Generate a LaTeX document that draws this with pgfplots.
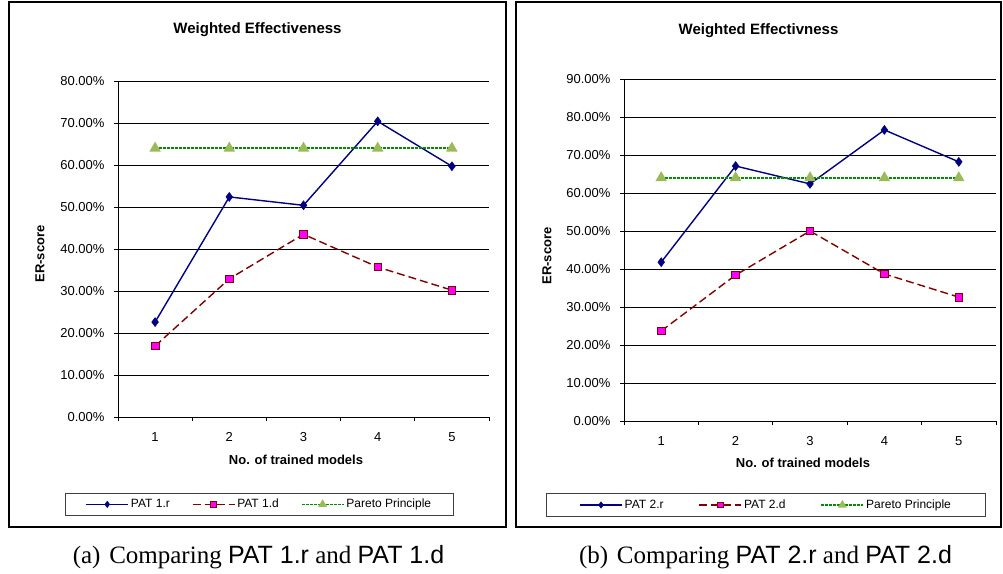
\documentclass[border=0pt]{standalone}
\usepackage{fontspec}
\setmainfont{Liberation Serif}
\newfontfamily\arial{Liberation Sans}
\usepackage{pgfplots}
\pgfplotsset{compat=1.18}

\definecolor{navyline}{RGB}{0,0,128}
\definecolor{darkredline}{RGB}{128,0,0}
\definecolor{magentafill}{RGB}{255,0,255}
\definecolor{paretoline}{RGB}{0,140,0}
\definecolor{paretofill}{RGB}{155,187,89}

\pgfplotsset{
  excel/.style={
    scale only axis,
    xmin=0.5, xmax=5.5, ymin=0,
    axis x line*=bottom, axis y line*=left,
    axis line style={black, line width=1pt},
    xtick={1,...,5},
    minor xtick={0.5,1.5,...,5.5},
    tick align=outside,
    major tick length=4pt, minor tick length=4pt,
    tick style={black, line width=1pt},
    major x tick style={draw=none},
    ymajorgrids,
    grid style={black, line width=0.9pt},
    tick label style={font=\arial\fontsize{13}{13}\selectfont},
    xticklabel style={yshift=-8pt},
    yticklabel style={xshift=-6pt},
    /pgf/number format/assume math mode=true,
    yticklabel={\pgfmathprintnumber[fixed,fixed zerofill,precision=2]{\tick}\%},
    legend columns=3,
    legend cell align=left,
    legend image code/.code={%
      \draw[mark repeat=2,mark phase=2,every mark/.append style={scale=0.7}]
        plot coordinates {(0pt,0pt) (21pt,0pt) (42pt,0pt)};},
    legend style={draw=black!75, line width=1pt, anchor=center,
      font=\arial\fontsize{12}{12}\selectfont,
      inner ysep=4pt},
  },
  patr/.style={navyline, line width=1.4pt, mark=diamond*, mark size=4.5pt,
    mark options={solid, fill=navyline, draw=navyline, line width=0.5pt}},
  patd/.style={darkredline, line width=1.4pt, dash pattern=on 8pt off 4pt,
    mark=square*, mark size=3.8pt,
    mark options={solid, fill=magentafill, draw=darkredline, line width=0.8pt}},
  pareto/.style={paretoline, line width=1.6pt, dash pattern=on 3pt off 1pt,
    mark=triangle*, mark size=5pt,
    mark options={solid, fill=paretofill, draw=paretofill}},
}

\begin{document}
\begin{tikzpicture}[x=1pt,y=-1pt]
\useasboundingbox (0,0) rectangle (1003,573);

% panel frames
\draw[black, line width=1.5pt] (9,2) rectangle (506,527);
\draw[black, line width=1.5pt] (516,2) rectangle (1001,527);

% ---------- (a) ----------
\begin{axis}[excel,
    at={(118pt,-417pt)}, anchor=south west,
    width=371pt, height=336pt,
    ymax=80, ytick={0,10,...,80},
    legend style={at={(0.381,-0.26)},
      /tikz/column 2/.style={column sep=20pt},
      /tikz/column 4/.style={column sep=20pt},
      inner xsep=20pt},
  ]
  \addplot[patr] coordinates {(1,22.6) (2,52.4) (3,50.4) (4,70.4) (5,59.7)};
  \addlegendentry{PAT 1.r}
  \addplot[patd] coordinates {(1,16.9) (2,32.9) (3,43.5) (4,35.7) (5,30.2)};
  \addlegendentry{PAT 1.d}
  \addplot[pareto] coordinates {(1,64) (2,64) (3,64) (4,64) (5,64)};
  \addlegendentry{Pareto Principle}
\end{axis}

\node[font=\arial\bfseries\fontsize{15}{15}\selectfont] at (257.5,30) {Weighted Effectiveness};
\node[font=\arial\bfseries\fontsize{13}{13}\selectfont, rotate=90] at (40,254) {ER-score};
\node[font=\arial\bfseries\fontsize{13}{13}\selectfont] at (296,460) {No. of trained models};
\node[font=\fontsize{25}{25}\selectfont] at (258.5,557)
  {(a)\hspace{0.35em}Comparing {\arial PAT 1.r} and {\arial PAT 1.d}};

% ---------- (b) ----------
\begin{axis}[excel,
    at={(624pt,-421pt)}, anchor=south west,
    width=372pt, height=342pt,
    ymax=90, ytick={0,10,...,90},
    legend style={at={(0.382,-0.2456)},
      /tikz/column 2/.style={column sep=33pt},
      /tikz/column 4/.style={column sep=33pt},
      inner xsep=33pt},
  ]
  \addplot[patr] coordinates {(1,41.8) (2,67.1) (3,62.4) (4,76.6) (5,68.2)};
  \addlegendentry{PAT 2.r}
  \addplot[patd] coordinates {(1,23.7) (2,38.4) (3,50.0) (4,38.7) (5,32.6)};
  \addlegendentry{PAT 2.d}
  \addplot[pareto] coordinates {(1,64) (2,64) (3,64) (4,64) (5,64)};
  \addlegendentry{Pareto Principle}
\end{axis}

\node[font=\arial\bfseries\fontsize{15}{15}\selectfont] at (758.5,31) {Weighted Effectivness};
\node[font=\arial\bfseries\fontsize{13}{13}\selectfont, rotate=90] at (547,256) {ER-score};
\node[font=\arial\bfseries\fontsize{13}{13}\selectfont] at (803,463) {No. of trained models};
\node[font=\fontsize{25}{25}\selectfont] at (765.5,557)
  {(b)\hspace{0.35em}Comparing {\arial PAT 2.r} and {\arial PAT 2.d}};
\end{tikzpicture}
\end{document}
